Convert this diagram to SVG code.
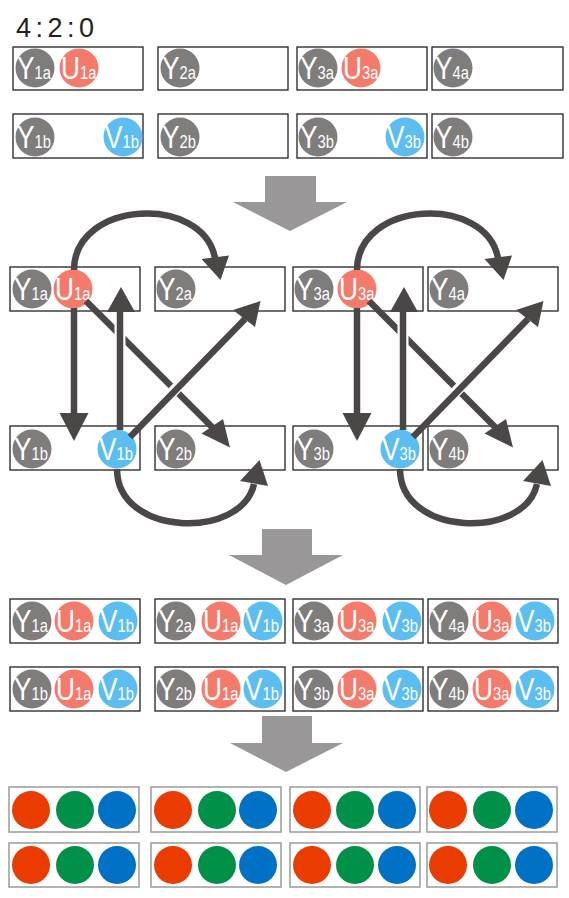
<svg xmlns="http://www.w3.org/2000/svg" xmlns:xlink="http://www.w3.org/1999/xlink" width="569" height="898" viewBox="0 0 569 898">
<style>
.box{fill:none;stroke:#231f20;stroke-width:1.3}
.box2{fill:none;stroke:#9a9a9a;stroke-width:1.5}
.cy{fill:#7f7c7c}
.cu{fill:#f47b6b}
.cv{fill:#5bbdf0}
.lbl{font-family:"Liberation Sans",Arial,sans-serif;font-size:32px;fill:#fff}
.sub{font-size:18px}
.ar{fill:none;stroke:#4b4747;stroke-width:6.5}
.ah{fill:#4b4747}
.halo{fill:none;stroke:#fff;stroke-width:11}
.big{fill:#999797}
.r{fill:#ea3b00}.g{fill:#009048}.b{fill:#0071c5}
.title{font-family:"Liberation Sans",Arial,sans-serif;font-size:27px;fill:#231f20;letter-spacing:4.5px}
</style>
<rect width="569" height="898" fill="#fff"/>
<text class="title" x="16" y="37">4:2:0</text>

<!-- top row -->
<g id="t-1a"><rect class="box" x="13" y="47" width="130" height="43"/>
<circle class="cy" cx="35" cy="68" r="19.5"/><text class="lbl" transform="translate(17,79) scale(0.82,1)">Y<tspan class="sub">1a</tspan></text>
<circle class="cu" cx="79" cy="68" r="19.5"/><text class="lbl" transform="translate(61,79) scale(0.82,1)">U<tspan class="sub">1a</tspan></text></g>
<g id="t-2a"><rect class="box" x="158" y="47" width="130" height="43"/>
<circle class="cy" cx="180" cy="68" r="19.5"/><text class="lbl" transform="translate(162,79) scale(0.82,1)">Y<tspan class="sub">2a</tspan></text></g>
<g id="t-3a"><rect class="box" x="297" y="47" width="130" height="43"/>
<circle class="cy" cx="318" cy="68" r="19.5"/><text class="lbl" transform="translate(300,79) scale(0.82,1)">Y<tspan class="sub">3a</tspan></text>
<circle class="cu" cx="361" cy="68" r="19.5"/><text class="lbl" transform="translate(343,79) scale(0.82,1)">U<tspan class="sub">3a</tspan></text></g>
<g id="t-4a"><rect class="box" x="432" y="47" width="131" height="43"/>
<circle class="cy" cx="453" cy="68" r="19.5"/><text class="lbl" transform="translate(435,79) scale(0.82,1)">Y<tspan class="sub">4a</tspan></text></g>
<g id="t-1b"><rect class="box" x="13" y="114" width="130" height="44"/>
<circle class="cy" cx="35" cy="137" r="19.5"/><text class="lbl" transform="translate(17,148) scale(0.82,1)">Y<tspan class="sub">1b</tspan></text>
<circle class="cv" cx="123" cy="137" r="19.5"/><text class="lbl" transform="translate(105,148) scale(0.82,1)">V<tspan class="sub">1b</tspan></text></g>
<g id="t-2b"><rect class="box" x="158" y="114" width="130" height="44"/>
<circle class="cy" cx="180" cy="137" r="19.5"/><text class="lbl" transform="translate(162,148) scale(0.82,1)">Y<tspan class="sub">2b</tspan></text></g>
<g id="t-3b"><rect class="box" x="297" y="114" width="130" height="44"/>
<circle class="cy" cx="318" cy="137" r="19.5"/><text class="lbl" transform="translate(300,148) scale(0.82,1)">Y<tspan class="sub">3b</tspan></text>
<circle class="cv" cx="405" cy="137" r="19.5"/><text class="lbl" transform="translate(387,148) scale(0.82,1)">V<tspan class="sub">3b</tspan></text></g>
<g id="t-4b"><rect class="box" x="432" y="114" width="131" height="44"/>
<circle class="cy" cx="453" cy="137" r="19.5"/><text class="lbl" transform="translate(435,148) scale(0.82,1)">Y<tspan class="sub">4b</tspan></text></g>

<!-- big process arrows -->
<g id="process-arrows">
<polygon class="big" points="265,176 316,176 316,202 347,202 290,231 233,202 265,202"/>
<polygon class="big" points="262,529 312,529 312,555 343,555 286,585 229,555 262,555"/>
<polygon class="big" points="262,716 312,716 312,743 343,743 286,772 230,743 262,743"/>
</g>

<!-- middle row -->
<g id="m-1a"><rect class="box" x="10" y="267" width="130" height="44"/>
<circle class="cy" cx="32" cy="289" r="19.5"/><text class="lbl" transform="translate(14,300) scale(0.82,1)">Y<tspan class="sub">1a</tspan></text>
<circle class="cu" cx="73" cy="289" r="19.5"/><text class="lbl" transform="translate(55,300) scale(0.82,1)">U<tspan class="sub">1a</tspan></text></g>
<g id="m-2a"><rect class="box" x="155" y="267" width="130" height="44"/>
<circle class="cy" cx="176" cy="289" r="19.5"/><text class="lbl" transform="translate(158,300) scale(0.82,1)">Y<tspan class="sub">2a</tspan></text></g>
<g id="m-3a"><rect class="box" x="293" y="267" width="130" height="44"/>
<circle class="cy" cx="314" cy="289" r="19.5"/><text class="lbl" transform="translate(296,300) scale(0.82,1)">Y<tspan class="sub">3a</tspan></text>
<circle class="cu" cx="357" cy="289" r="19.5"/><text class="lbl" transform="translate(339,300) scale(0.82,1)">U<tspan class="sub">3a</tspan></text></g>
<g id="m-4a"><rect class="box" x="428" y="267" width="130" height="44"/>
<circle class="cy" cx="449" cy="289" r="19.5"/><text class="lbl" transform="translate(431,300) scale(0.82,1)">Y<tspan class="sub">4a</tspan></text></g>
<g id="m-1b"><rect class="box" x="10" y="426" width="130" height="44"/>
<circle class="cy" cx="32" cy="449" r="19.5"/><text class="lbl" transform="translate(14,460) scale(0.82,1)">Y<tspan class="sub">1b</tspan></text>
<circle class="cv" cx="117" cy="449" r="19.5"/><text class="lbl" transform="translate(99,460) scale(0.82,1)">V<tspan class="sub">1b</tspan></text></g>
<g id="m-2b"><rect class="box" x="155" y="426" width="130" height="44"/>
<circle class="cy" cx="176" cy="449" r="19.5"/><text class="lbl" transform="translate(158,460) scale(0.82,1)">Y<tspan class="sub">2b</tspan></text></g>
<g id="m-3b"><rect class="box" x="293" y="426" width="130" height="44"/>
<circle class="cy" cx="314" cy="449" r="19.5"/><text class="lbl" transform="translate(296,460) scale(0.82,1)">Y<tspan class="sub">3b</tspan></text>
<circle class="cv" cx="400" cy="449" r="19.5"/><text class="lbl" transform="translate(382,460) scale(0.82,1)">V<tspan class="sub">3b</tspan></text></g>
<g id="m-4b"><rect class="box" x="428" y="426" width="130" height="44"/>
<circle class="cy" cx="449" cy="449" r="19.5"/><text class="lbl" transform="translate(431,460) scale(0.82,1)">Y<tspan class="sub">4b</tspan></text></g>

<!-- connectors -->
<g id="connectors">
<g id="arrows-left">
<path class="ar" d="M74,270 C74,200 203,194 215,258"/>
<polygon class="ah" points="201.5,259 229,255.5 220.5,280"/>
<line class="ar" x1="74" y1="308" x2="74" y2="414"/>
<polygon class="ah" points="59.5,413 88.5,413 74,441"/>
<line class="ar" x1="86" y1="301" x2="213" y2="428"/>
<polygon class="ah" points="201.5,433.5 223,419 230,447.5"/>
<line class="halo" x1="120" y1="322" x2="120" y2="348"/>
<line class="ar" x1="120" y1="430" x2="120" y2="311"/>
<polygon class="ah" points="107,312 135,312 121,287"/>
<line class="halo" x1="163" y1="402" x2="188" y2="376"/>
<line class="ar" x1="130" y1="437" x2="245" y2="319"/>
<polygon class="ah" points="233,310 255,327 260.5,301"/>
<path class="ar" d="M117,469 C117,537 242,540 254,484"/>
<polygon class="ah" points="240,481 268,486 259.5,460"/>
</g>
<use xlink:href="#arrows-left" transform="translate(283,0)"/>
</g>

<!-- combined row -->
<g id="c-1a"><rect class="box" x="10" y="599" width="130" height="44"/>
<circle class="cy" cx="32" cy="621" r="19.5"/><text class="lbl" transform="translate(14,632) scale(0.82,1)">Y<tspan class="sub">1a</tspan></text>
<circle class="cu" cx="74" cy="621" r="19.5"/><text class="lbl" transform="translate(56,632) scale(0.82,1)">U<tspan class="sub">1a</tspan></text>
<circle class="cv" cx="118" cy="621" r="19.5"/><text class="lbl" transform="translate(100,632) scale(0.82,1)">V<tspan class="sub">1b</tspan></text></g>
<g id="c-2a"><rect class="box" x="155" y="599" width="130" height="44"/>
<circle class="cy" cx="176" cy="621" r="19.5"/><text class="lbl" transform="translate(158,632) scale(0.82,1)">Y<tspan class="sub">2a</tspan></text>
<circle class="cu" cx="221" cy="621" r="19.5"/><text class="lbl" transform="translate(203,632) scale(0.82,1)">U<tspan class="sub">1a</tspan></text>
<circle class="cv" cx="263" cy="621" r="19.5"/><text class="lbl" transform="translate(245,632) scale(0.82,1)">V<tspan class="sub">1b</tspan></text></g>
<g id="c-3a"><rect class="box" x="293" y="599" width="130" height="44"/>
<circle class="cy" cx="314" cy="621" r="19.5"/><text class="lbl" transform="translate(296,632) scale(0.82,1)">Y<tspan class="sub">3a</tspan></text>
<circle class="cu" cx="357" cy="621" r="19.5"/><text class="lbl" transform="translate(339,632) scale(0.82,1)">U<tspan class="sub">3a</tspan></text>
<circle class="cv" cx="402" cy="621" r="19.5"/><text class="lbl" transform="translate(384,632) scale(0.82,1)">V<tspan class="sub">3b</tspan></text></g>
<g id="c-4a"><rect class="box" x="428" y="599" width="130" height="44"/>
<circle class="cy" cx="449" cy="621" r="19.5"/><text class="lbl" transform="translate(431,632) scale(0.82,1)">Y<tspan class="sub">4a</tspan></text>
<circle class="cu" cx="492" cy="621" r="19.5"/><text class="lbl" transform="translate(474,632) scale(0.82,1)">U<tspan class="sub">3a</tspan></text>
<circle class="cv" cx="535" cy="621" r="19.5"/><text class="lbl" transform="translate(517,632) scale(0.82,1)">V<tspan class="sub">3b</tspan></text></g>
<g id="c-1b"><rect class="box" x="10" y="667" width="130" height="44"/>
<circle class="cy" cx="32" cy="689" r="19.5"/><text class="lbl" transform="translate(14,700) scale(0.82,1)">Y<tspan class="sub">1b</tspan></text>
<circle class="cu" cx="74" cy="689" r="19.5"/><text class="lbl" transform="translate(56,700) scale(0.82,1)">U<tspan class="sub">1a</tspan></text>
<circle class="cv" cx="118" cy="689" r="19.5"/><text class="lbl" transform="translate(100,700) scale(0.82,1)">V<tspan class="sub">1b</tspan></text></g>
<g id="c-2b"><rect class="box" x="155" y="667" width="130" height="44"/>
<circle class="cy" cx="176" cy="689" r="19.5"/><text class="lbl" transform="translate(158,700) scale(0.82,1)">Y<tspan class="sub">2b</tspan></text>
<circle class="cu" cx="221" cy="689" r="19.5"/><text class="lbl" transform="translate(203,700) scale(0.82,1)">U<tspan class="sub">1a</tspan></text>
<circle class="cv" cx="263" cy="689" r="19.5"/><text class="lbl" transform="translate(245,700) scale(0.82,1)">V<tspan class="sub">1b</tspan></text></g>
<g id="c-3b"><rect class="box" x="293" y="667" width="130" height="44"/>
<circle class="cy" cx="314" cy="689" r="19.5"/><text class="lbl" transform="translate(296,700) scale(0.82,1)">Y<tspan class="sub">3b</tspan></text>
<circle class="cu" cx="357" cy="689" r="19.5"/><text class="lbl" transform="translate(339,700) scale(0.82,1)">U<tspan class="sub">3a</tspan></text>
<circle class="cv" cx="402" cy="689" r="19.5"/><text class="lbl" transform="translate(384,700) scale(0.82,1)">V<tspan class="sub">3b</tspan></text></g>
<g id="c-4b"><rect class="box" x="428" y="667" width="130" height="44"/>
<circle class="cy" cx="449" cy="689" r="19.5"/><text class="lbl" transform="translate(431,700) scale(0.82,1)">Y<tspan class="sub">4b</tspan></text>
<circle class="cu" cx="492" cy="689" r="19.5"/><text class="lbl" transform="translate(474,700) scale(0.82,1)">U<tspan class="sub">3a</tspan></text>
<circle class="cv" cx="535" cy="689" r="19.5"/><text class="lbl" transform="translate(517,700) scale(0.82,1)">V<tspan class="sub">3b</tspan></text></g>

<!-- RGB row -->
<g id="p-1a"><rect class="box2" x="9" y="787" width="130" height="45"/><circle class="r" cx="31" cy="810" r="19"/><circle class="g" cx="75" cy="810" r="19"/><circle class="b" cx="117" cy="810" r="19"/></g>
<g id="p-2a"><rect class="box2" x="151" y="787" width="130" height="45"/><circle class="r" cx="173" cy="810" r="19"/><circle class="g" cx="217" cy="810" r="19"/><circle class="b" cx="258" cy="810" r="19"/></g>
<g id="p-3a"><rect class="box2" x="290" y="787" width="130" height="45"/><circle class="r" cx="312" cy="810" r="19"/><circle class="g" cx="355" cy="810" r="19"/><circle class="b" cx="397" cy="810" r="19"/></g>
<g id="p-4a"><rect class="box2" x="427" y="787" width="130" height="45"/><circle class="r" cx="448" cy="810" r="19"/><circle class="g" cx="492" cy="810" r="19"/><circle class="b" cx="534" cy="810" r="19"/></g>
<g id="p-1b"><rect class="box2" x="9" y="843" width="130" height="44"/><circle class="r" cx="31" cy="865" r="19"/><circle class="g" cx="75" cy="865" r="19"/><circle class="b" cx="117" cy="865" r="19"/></g>
<g id="p-2b"><rect class="box2" x="151" y="843" width="130" height="44"/><circle class="r" cx="173" cy="865" r="19"/><circle class="g" cx="217" cy="865" r="19"/><circle class="b" cx="258" cy="865" r="19"/></g>
<g id="p-3b"><rect class="box2" x="290" y="843" width="130" height="44"/><circle class="r" cx="312" cy="865" r="19"/><circle class="g" cx="355" cy="865" r="19"/><circle class="b" cx="397" cy="865" r="19"/></g>
<g id="p-4b"><rect class="box2" x="427" y="843" width="130" height="44"/><circle class="r" cx="448" cy="865" r="19"/><circle class="g" cx="492" cy="865" r="19"/><circle class="b" cx="534" cy="865" r="19"/></g>
</svg>
